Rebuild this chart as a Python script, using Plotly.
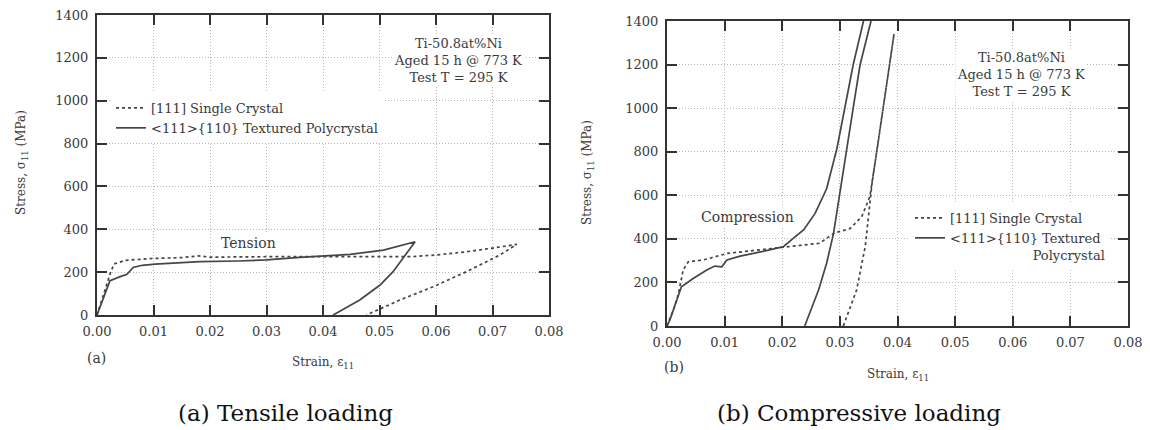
import plotly.graph_objects as go

# ---------------- data ----------------
# (a) Tensile loading
sc_t_strain = [0, 0.0008, 0.0016, 0.0023, 0.003, 0.005, 0.01, 0.015, 0.018, 0.02, 0.03, 0.04,
               0.05, 0.0554, 0.06, 0.0654, 0.07, 0.0743, 0.0713, 0.0654, 0.0595, 0.0536, 0.0477]
sc_t_stress = [0, 70, 140, 190, 238, 255, 264, 268, 276, 270, 272, 273,
               272, 272, 280, 295, 312, 330, 280, 202, 132, 70, 0]

pc_t_strain = [0, 0.0008, 0.0016, 0.0023, 0.004, 0.0053, 0.0064, 0.008, 0.0103, 0.015, 0.0182,
               0.025, 0.03, 0.0359, 0.0448, 0.0507, 0.0563, 0.0548, 0.0524, 0.0501, 0.0465, 0.0418]
pc_t_stress = [0, 55, 115, 160, 178, 190, 222, 232, 237, 243, 249,
               252, 257, 269, 283, 303, 342, 288, 202, 140, 70, 0]

# (b) Compressive loading
sc_c_strain = [0, 0.0005, 0.0012, 0.002, 0.0028, 0.0037, 0.0063, 0.0104, 0.0132, 0.0161, 0.0202,
               0.0219, 0.0242, 0.0265, 0.0289, 0.0318, 0.0338, 0.0352, 0.0364, 0.0375, 0.0387,
               0.0394, 0.0356, 0.0344, 0.0329, 0.0306]
sc_c_stress = [0, 30, 80, 150, 257, 295, 303, 333, 341, 352, 364,
               367, 372, 380, 425, 448, 502, 594, 800, 999, 1198,
               1340, 660, 364, 165, 0]

pc_c_strain = [0, 0.0005, 0.0017, 0.0025, 0.0046, 0.0069, 0.0083, 0.0095, 0.0104, 0.0127, 0.015,
               0.0179, 0.0202, 0.0219, 0.0237, 0.0257, 0.0277, 0.0295, 0.0309, 0.0323, 0.0341,
               None,
               0.0354, 0.0335, 0.0323, 0.0312, 0.0303, 0.0297, 0.0289, 0.0277, 0.0263, 0.0239]
pc_c_stress = [0, 28, 119, 180, 219, 257, 275, 272, 303, 321, 333,
               349, 364, 402, 441, 517, 630, 816, 999, 1198, 1400,
               None,
               1400, 1198, 999, 816, 647, 548, 425, 288, 165, 0]

x_ticks = [0, 0.01, 0.02, 0.03, 0.04, 0.05, 0.06, 0.07, 0.08]
y_ticks = [0, 200, 400, 600, 800, 1000, 1200, 1400]

label_sc = "[111] Single Crystal"
label_pc_a = "&lt;111&gt;{110} Textured Polycrystal"
label_pc_b = "&lt;111&gt;{110} Textured<br>" + "&nbsp;" * 20 + "Polycrystal"
info_text = "Ti-50.8at%Ni<br>Aged 15 h @ 773 K<br>Test T = 295 K"

# ---------------- styling ----------------
SERIF = "DejaVu Serif, Liberation Serif, serif"
INK = "#3a3a3a"
LINE = "#454545"

fig = go.Figure()
fig.add_trace(go.Scatter(x=sc_t_strain, y=sc_t_stress, mode="lines", name=label_sc,
                         line=dict(color=LINE, width=1.7, dash="dot"),
                         xaxis="x", yaxis="y", legend="legend"))
fig.add_trace(go.Scatter(x=pc_t_strain, y=pc_t_stress, mode="lines", name=label_pc_a,
                         line=dict(color=LINE, width=1.7),
                         xaxis="x", yaxis="y", legend="legend"))
fig.add_trace(go.Scatter(x=sc_c_strain, y=sc_c_stress, mode="lines", name=label_sc,
                         line=dict(color=LINE, width=1.7, dash="dot"),
                         xaxis="x2", yaxis="y2", legend="legend2"))
fig.add_trace(go.Scatter(x=pc_c_strain, y=pc_c_stress, mode="lines", name=label_pc_b,
                         line=dict(color=LINE, width=1.7), connectgaps=False,
                         xaxis="x2", yaxis="y2", legend="legend2"))

W, H = 1150, 430


def px_x(p):
    return p / W


def px_y(p):
    return 1 - p / H


axis_common = dict(
    showline=True, linecolor="#333", linewidth=2, mirror="ticks",
    ticks="inside", ticklen=10, tickwidth=2, tickcolor="#333",
    showgrid=True, gridcolor="#b8b8b8", griddash="1px,2px", gridwidth=1,
    zeroline=False, tickfont=dict(family=SERIF, size=13, color=INK),
)

fig.update_layout(
    width=W, height=H, margin=dict(l=0, r=0, t=0, b=0, autoexpand=False),
    paper_bgcolor="white", plot_bgcolor="white",
    showlegend=True,
    xaxis=dict(domain=[px_x(97), px_x(549)], range=[0, 0.08], tickvals=x_ticks,
               tickformat=".2f", anchor="y", ticklabelstandoff=3, **axis_common),
    yaxis=dict(domain=[px_y(315), px_y(15)], range=[0, 1400], tickvals=y_ticks,
               anchor="x", ticklabelstandoff=4, **axis_common),
    xaxis2=dict(domain=[px_x(667), px_x(1128)], range=[0, 0.08], tickvals=x_ticks,
                tickformat=".2f", anchor="y2", ticklabelstandoff=3, **axis_common),
    yaxis2=dict(domain=[px_y(326), px_y(21)], range=[0, 1400], tickvals=y_ticks,
                anchor="x2", ticklabelstandoff=4, **axis_common),
    legend=dict(x=px_x(111), y=px_y(93), xanchor="left", yanchor="top",
                bgcolor="white", borderwidth=0, itemwidth=30,
                font=dict(family=SERIF, size=13, color=INK), tracegroupgap=0),
    legend2=dict(x=px_x(910), y=px_y(203), xanchor="left", yanchor="top",
                 bgcolor="white", borderwidth=0, itemwidth=30, valign="top",
                 font=dict(family=SERIF, size=13, color=INK), tracegroupgap=0),
)


def note(x, y, text, size=13, color=INK, bg=None, angle=0):
    d = dict(x=px_x(x), y=px_y(y), xref="paper", yref="paper", text=text,
             xanchor="center", yanchor="middle", showarrow=False, textangle=angle,
             font=dict(family=SERIF, size=size, color=color), align="center")
    if bg:
        d["bgcolor"] = bg
    return d


ann = [
    note(458, 61, info_text, bg="white"),
    note(1021, 75, info_text, bg="white"),
    note(248, 243, "Tension", size=14, bg="white"),
    note(747, 217, "Compression", size=14, bg="white"),
    note(22, 163, "Stress, σ<sub>11</sub> (MPa)", size=12, angle=-90),
    note(588, 173, "Stress, σ<sub>11</sub> (MPa)", size=12, angle=-90),
    note(323, 363, "Strain, ε<sub>11</sub>", size=12),
    note(898, 375, "Strain, ε<sub>11</sub>", size=12),
    note(96, 358, "(a)", size=14),
    note(674, 367, "(b)", size=14),
    note(285, 413, "(a) Tensile loading", size=23, color="#111"),
    note(859, 413, "(b) Compressive loading", size=23, color="#111"),
]
fig.update_layout(annotations=ann)

fig.write_html("out.html",
               post_script="document.body.style.margin='0';document.body.style.padding='0';")
